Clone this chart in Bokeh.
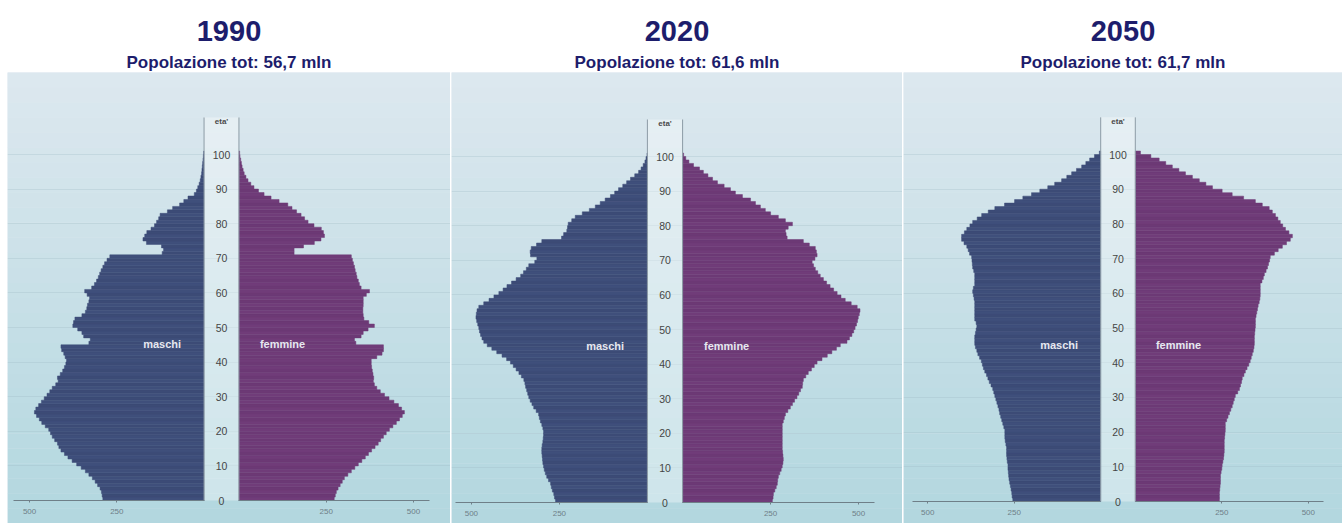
from bokeh.plotting import figure
from bokeh.models import (Title, FixedTicker, LinearAxis, BoxAnnotation, Range1d,
                          ColumnDataSource, Grid, Label, Spacer)
from bokeh.layouts import row, column
from bokeh.embed import file_html
from bokeh.resources import INLINE
from bokeh.core.properties import value

# ---------------- data ----------------
AGES = list(range(101))
YEARS = ["1990", "2020", "2050"]
TOTALS = ["Popolazione tot: 56,7 mln", "Popolazione tot: 61,6 mln", "Popolazione tot: 61,7 mln"]
SEX_LABELS = ["maschi", "femmine"]
AGE_TICKS = [0, 10, 20, 30, 40, 50, 60, 70, 80, 90, 100]
AGE_TICK_LABELS = ["0", "10", "20", "30", "40", "50", "60", "70", "80", "90", "100"]
AGE_TITLE = "eta'"
X_TICKS = [250, 500]
X_TICK_LABELS = ["250", "500"]

# thousands of people per single year of age (0..100)
M1990 = [290, 292, 294, 298, 305, 312, 320, 330, 340, 352,
         365, 378, 390, 400, 410, 416, 420, 428, 435, 440,
         445, 455, 465, 472, 480, 486, 482, 474, 466, 458,
         450, 442, 435, 425, 418, 420, 412, 405, 400, 396,
         394, 398, 402, 408, 410, 330, 326, 345, 350, 362,
         376, 374, 370, 350, 340, 336, 334, 330, 328, 335,
         342, 322, 314, 308, 303, 299, 295, 290, 285, 278,
         270, 120, 116, 122, 165, 175, 170, 164, 152, 142,
         136, 130, 126, 105, 90, 70, 58, 46, 28, 22,
         18, 14, 11, 9, 7, 6, 5, 4, 3, 2, 1]
F1990 = [273, 276, 279, 284, 290, 296, 302, 312, 322, 332,
         342, 352, 362, 371, 380, 390, 399, 406, 414, 422,
         431, 441, 451, 460, 468, 474, 466, 457, 444, 430,
         417, 405, 395, 388, 385, 386, 384, 382, 380, 379,
         379, 395, 410, 414, 414, 335, 331, 350, 356, 370,
         388, 372, 358, 356, 355, 355, 356, 356, 356, 365,
         374, 350, 345, 342, 338, 336, 333, 331, 328, 325,
         322, 158, 158, 185, 216, 235, 245, 242, 236, 215,
         198, 188, 178, 165, 152, 140, 115, 92, 72, 56,
         43, 34, 26, 20, 15, 12, 9, 7, 5, 3, 2]
M2020 = [261, 264, 266, 270, 273, 275, 281, 286, 290, 293,
         295, 297, 298, 299, 300, 300, 299, 297, 296, 295,
         295, 297, 300, 304, 307, 309, 316, 323, 328, 333,
         337, 340, 343, 346, 348, 351, 358, 365, 373, 381,
         389, 400, 413, 428, 442, 455, 465, 470, 474, 477,
         479, 482, 485, 487, 486, 484, 479, 465, 450, 436,
         422, 410, 399, 386, 373, 360, 352, 344, 337, 320,
         314, 332, 333, 330, 315, 300, 244, 238, 229, 227,
         225, 215, 205, 185, 165, 148, 134, 120, 105, 93,
         82, 70, 59, 48, 36, 25, 18, 12, 7, 4, 1]
F2020 = [255, 257, 258, 262, 266, 269, 270, 272, 276, 280,
         283, 285, 286, 285, 284, 283, 283, 283, 283, 283,
         283, 283, 283, 286, 289, 292, 299, 306, 312, 318,
         325, 330, 335, 340, 341, 343, 350, 357, 366, 374,
         382, 396, 411, 424, 437, 448, 467, 474, 481, 486,
         490, 494, 497, 499, 502, 504, 496, 479, 462, 450,
         439, 429, 419, 409, 400, 391, 384, 377, 372, 368,
         376, 382, 380, 377, 360, 343, 297, 294, 292, 300,
         312, 292, 272, 250, 235, 221, 207, 193, 170, 150,
         136, 118, 99, 85, 72, 59, 48, 31, 18, 9, 3]
M2050 = [254, 256, 257, 259, 261, 263, 265, 266, 267, 268,
         268, 270, 271, 272, 272, 272, 274, 276, 277, 277,
         277, 280, 283, 286, 289, 292, 294, 297, 300, 303,
         306, 309, 312, 317, 322, 326, 330, 335, 339, 342,
         345, 350, 355, 358, 362, 364, 364, 364, 362, 360,
         358, 360, 364, 364, 364, 364, 364, 364, 366, 368,
         370, 368, 364, 364, 364, 364, 367, 370, 371, 372,
         373, 379, 383, 387, 395, 402, 402, 394, 387, 378,
         370, 357, 344, 325, 306, 278, 249, 225, 200, 176,
         153, 133, 113, 98, 84, 70, 55, 43, 32, 18, 4]
F2050 = [243, 243, 243, 244, 245, 246, 246, 246, 248, 250,
         251, 253, 255, 256, 257, 257, 257, 257, 258, 259,
         260, 260, 260, 264, 268, 272, 276, 280, 283, 286,
         289, 296, 301, 304, 307, 309, 314, 318, 323, 328,
         332, 335, 338, 341, 343, 344, 344, 344, 345, 346,
         347, 347, 347, 349, 351, 353, 355, 358, 360, 361,
         361, 361, 361, 366, 370, 373, 378, 382, 385, 388,
         390, 402, 413, 425, 437, 448, 454, 444, 434, 426,
         419, 412, 405, 396, 387, 367, 347, 313, 280, 251,
         223, 204, 185, 165, 145, 126, 107, 88, 69, 45, 15]

MALES = [M1990, M2020, M2050]
FEMALES = [F1990, F2020, F2050]

# ---------------- styling / geometry ----------------
NAVY = "#1d1d6c"
MALE_COLS = ["#3f4f7b", "#3c4b76"]
FEMALE_COLS = ["#703c79", "#6c3975"]
BG_TOP = (221, 232, 239)
BG_BOTTOM = (178, 215, 223)
GAP = 50          # half width of the central age column (data units)
COL_TOP = 110.7   # top of the central column (age units)
TOP_PAD = 9
FRAME_TOP = 73
FRAME_BOTTOM = 524

# (left px, right px, centre px, px per unit, y of age 0, px per year)
GEOMS = [
    (7, 450, 221.0, 0.349, 501.0, 3.46),
    (451, 902, 664.5, 0.352, 503.0, 3.46),
    (903, 1342, 1117.5, 0.346, 502.0, 3.47),
]


def hexcol(c):
    return "#%02x%02x%02x" % c


def make_panel(i):
    L, R, C, s, y0, ppy = GEOMS[i]
    xs, xe = (L - C) / s, (R - C) / s
    ys, ye = (y0 - FRAME_BOTTOM) / ppy, (y0 - FRAME_TOP) / ppy
    p = figure(frame_width=R - L, frame_height=FRAME_BOTTOM - FRAME_TOP,
               x_range=Range1d(xs, xe), y_range=Range1d(ys, ye),
               x_axis_type=None, y_axis_type=None,
               output_backend="svg", toolbar_location=None,
               min_border=0, outline_line_color=None,
               background_fill_color=hexcol(BG_TOP), border_fill_color="white")

    # vertical gradient of the panel background
    n = 30
    for k in range(n):
        t = (k + 0.5) / n
        col = tuple(int(round(BG_BOTTOM[j] + (BG_TOP[j] - BG_BOTTOM[j]) * t)) for j in range(3))
        b = ys + (ye - ys) * k / n
        tp = ys + (ye - ys) * (k + 1) / n
        p.add_layout(BoxAnnotation(bottom=b, top=tp + 0.05, fill_color=hexcol(col),
                                   fill_alpha=1, line_alpha=0, level="underlay"))

    p.add_layout(Grid(dimension=1, ticker=FixedTicker(ticks=AGE_TICKS[1:]),
                      bounds=(-(GAP + 545), GAP + 545),
                      grid_line_color="#9fbac5", grid_line_alpha=0.3, level="underlay"))

    m = MALES[i]
    f = FEMALES[i]
    src = ColumnDataSource(dict(
        y=[a + 0.5 for a in AGES],
        ml=[-GAP - v for v in m], mr=[-GAP] * len(AGES),
        fl=[GAP] * len(AGES), fr=[GAP + v for v in f],
        mc=[MALE_COLS[a % 2] for a in AGES],
        fc=[FEMALE_COLS[a % 2] for a in AGES],
    ))
    p.hbar(y="y", height=1, left="ml", right="mr", source=src,
           fill_color="mc", line_color="mc", line_width=0.5)
    p.hbar(y="y", height=1, left="fl", right="fr", source=src,
           fill_color="fc", line_color="fc", line_width=0.5)

    # central age column
    p.quad(left=[-GAP], right=[GAP], bottom=[0], top=[COL_TOP],
           fill_color="white", fill_alpha=0.35, line_color=None)
    p.segment(x0=[-GAP, GAP], y0=[0, 0], x1=[-GAP, GAP], y1=[COL_TOP, COL_TOP],
              line_color="#8c9ba5", line_width=1)
    p.text(x=[0] * len(AGE_TICKS), y=AGE_TICKS, text=AGE_TICK_LABELS,
           text_align="center", text_baseline="middle",
           text_font=value("Liberation Sans"), text_font_size="10.5px",
           text_color="#454545")
    p.text(x=[0], y=[COL_TOP - 1.3], text=[AGE_TITLE],
           text_align="center", text_baseline="middle",
           text_font=value("Liberation Sans"), text_font_size="8px",
           text_font_style="bold", text_color="#4a4a4a")

    # x axes (one per side)
    for side in (-1, 1):
        ticks = [side * (GAP + v) for v in X_TICKS]
        ax = LinearAxis(fixed_location=0, ticker=FixedTicker(ticks=ticks),
                        major_label_overrides={t: lab for t, lab in zip(ticks, X_TICK_LABELS)},
                        bounds=(-(GAP + 545), -GAP) if side < 0 else (GAP, GAP + 545),
                        axis_line_color="#6f7f88", axis_line_width=1,
                        major_tick_in=0, major_tick_out=2, major_tick_line_color="#6f7f88",
                        minor_tick_line_color=None,
                        major_label_text_font_size="8px",
                        major_label_text_color="#6f7f88",
                        major_label_text_font="Liberation Sans",
                        major_label_standoff=6)
        p.add_layout(ax, "below")

    for txt, xpos in zip(SEX_LABELS, (-170, 175)):
        p.add_layout(Label(x=xpos, y=45.2, text=txt, text_align="center",
                           text_baseline="middle", text_font="Liberation Sans",
                           text_font_size="11px", text_font_style="bold",
                           text_color="#e6e8f0"))

    p.add_layout(Title(text=TOTALS[i], align="center", text_font="Liberation Sans",
                       text_font_size="17px", text_font_style="bold",
                       text_color=NAVY, standoff=1), "above")
    p.add_layout(Title(text=YEARS[i], align="center", text_font="Liberation Sans",
                       text_font_size="29px", text_font_style="bold",
                       text_color=NAVY, standoff=19), "above")
    return p


panels = [make_panel(i) for i in range(3)]
layout = column(Spacer(height=TOP_PAD),
                row(Spacer(width=GEOMS[0][0]), panels[0], Spacer(width=1),
                    panels[1], Spacer(width=1), panels[2]))
open("out.html", "w").write(file_html(layout, INLINE))
